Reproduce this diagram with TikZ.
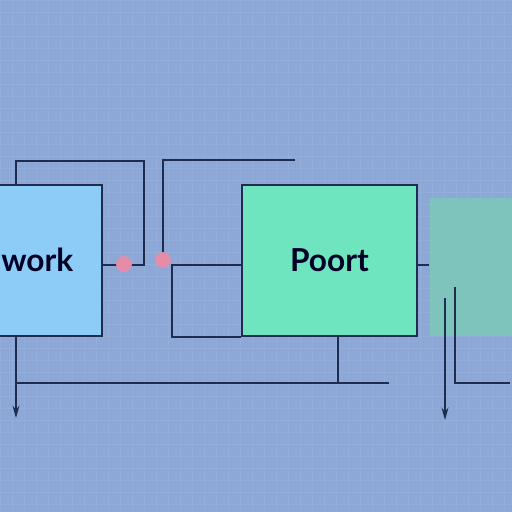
\documentclass[tikz,border=0pt]{standalone}
\usepackage{fontspec}
\setmainfont{Lato}
\usepackage{tikz}
\usetikzlibrary{positioning, arrows.meta, calc}

\definecolor{bgblue}{RGB}{141,168,214}
\definecolor{gridblue}{RGB}{148,174,219}
\definecolor{netblue}{RGB}{140,204,246}
\definecolor{poortgreen}{RGB}{111,229,191}
\definecolor{sidegreen}{RGB}{126,195,188}
\definecolor{wire}{RGB}{30,45,77}
\definecolor{pinkdot}{RGB}{229,140,168}

\begin{document}
\begin{tikzpicture}[
  x=0.02cm, y=-0.02cm,
  blockbox/.style={draw=wire, line width=1.6pt, inner sep=0pt},
  wireline/.style={draw=wire, line width=1.4pt},
  thinarrow/.style={draw=wire, line width=0.8pt, -{Stealth[length=2.5mm, width=1.4mm]}},
  label/.style={font=\fontsize{18}{20}\selectfont\bfseries, text=black!85!blue, inner sep=0pt},
  dot/.style={circle, fill=pinkdot, minimum size=9pt, inner sep=0pt}
]
\clip (0,0) rectangle (512,512);
\fill[bgblue] (0,0) rectangle (512,512);
\draw[gridblue, line width=0.3pt, step=0.24cm] (0,0) grid (512,512);

% blocks
\node[blockbox, fill=netblue, minimum width=2.44cm, minimum height=3.02cm] (net) at (41,260.5) {};
\node[label, anchor=west] (netlabel) at (1,260) {work};
\node[blockbox, fill=poortgreen, minimum width=3.5cm, minimum height=3.02cm] (poort) at (329.5,260.5) {};
\node[label] (poortlabel) at (poort.center) {Poort};
\node[fill=sidegreen, draw=none, minimum width=1.7cm, minimum height=2.76cm, inner sep=0pt] (side) at (472,267) {};

% joints
\coordinate (netA) at (16,185);
\coordinate (netB) at (16,336);
\coordinate (loopR) at (144,265);
\coordinate (topL) at (144,161);
\coordinate (wireM) at (163,260);
\coordinate (wireE) at (295,160);
\coordinate (loopL) at (172,265);
\coordinate (busE) at (389,383);
\coordinate (poortB) at (338,336);
\coordinate (sideA) at (445,298);
\coordinate (sideB) at (455,287);

% wires
\draw[wireline] (netA) |- (topL) -- (loopR) -- (loopR -| net.east);
\draw[wireline] (wireM) |- (wireE);
\draw[wireline] (loopL -| poort.west) -- (loopL) -- (172,337) -- (poort.west |- 0,337);
\draw[wireline] (netB) |- (busE);
\draw[wireline] (poortB) -- (poortB |- busE);
\draw[wireline] (poort.east |- 0,265) -- (side.west |- 0,265);
\draw[wireline] (sideB) |- (510,383);
\draw[thinarrow] (16,383) -- (16,418);
\draw[thinarrow] (sideA) -- (445,420);

% dots
\node[dot] (dotA) at (124,264) {};
\node[dot] (dotB) at (163,260) {};
\end{tikzpicture}
\end{document}
